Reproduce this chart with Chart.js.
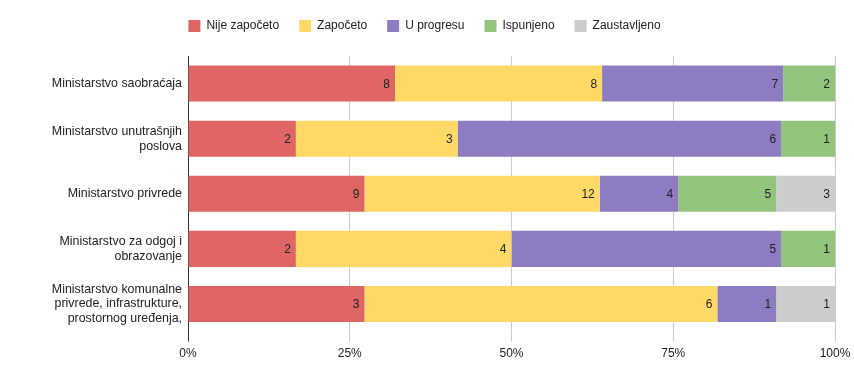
<!DOCTYPE html>
<html>
<head>
<meta charset="utf-8">
<script src="https://cdn.jsdelivr.net/npm/chart.js@4"></script>
<style>
  html, body { margin: 0; padding: 0; background: #fff; }
  #wrap { width: 854px; height: 379px; }
</style>
</head>
<body>
<div id="wrap"><canvas id="mychart"></canvas></div>
<script>
const ministries = [
  'Ministarstvo saobraćaja',
  ['Ministarstvo unutrašnjih', 'poslova'],
  'Ministarstvo privrede',
  ['Ministarstvo za odgoj i', 'obrazovanje'],
  ['Ministarstvo komunalne', 'privrede, infrastrukture,', 'prostornog uređenja,']
];
const statuses = ['Nije započeto', 'Započeto', 'U progresu', 'Ispunjeno', 'Zaustavljeno'];
const colors = ['#e06666', '#ffd966', '#8e7cc3', '#93c47d', '#cccccc'];

const notStarted = [8, 2, 9, 2, 3];
const started    = [8, 3, 12, 4, 6];
const inProgress = [7, 6, 4, 5, 1];
const fulfilled  = [2, 1, 5, 1, 0];
const stopped    = [0, 0, 3, 0, 1];

const xTicks = [0, 25, 50, 75, 100];

const counts = [notStarted, started, inProgress, fulfilled, stopped];
const totals = ministries.map((m, i) => counts.reduce((s, arr) => s + arr[i], 0));

const datasets = counts.map((arr, k) => ({
  label: statuses[k],
  data: arr.map((v, i) => v / totals[i] * 100),
  raw: arr,
  backgroundColor: colors[k],
  borderWidth: 0,
  barPercentage: 0.655,
  categoryPercentage: 1
}));

// draws the count at the right end of each segment
const endLabels = {
  id: 'endLabels',
  afterDatasetsDraw(chart) {
    const ctx = chart.ctx;
    ctx.save();
    ctx.font = '12px "Liberation Sans", Arial, sans-serif';
    ctx.fillStyle = '#222';
    ctx.textAlign = 'right';
    ctx.textBaseline = 'middle';
    chart.data.datasets.forEach((ds, di) => {
      chart.getDatasetMeta(di).data.forEach((bar, i) => {
        const v = ds.raw[i];
        if (!v) return;
        ctx.fillText(String(v), bar.x - 5, bar.y + 1);
      });
    });
    ctx.restore();
  }
};

// more room under the legend, and shift it like the original
const legendSpace = {
  id: 'legendSpace',
  beforeInit(chart) {
    const fit = chart.legend.fit;
    chart.legend.fit = function () {
      fit.bind(chart.legend)();
      this.height += 14;
    };
  },
  beforeDraw(chart) {
    chart.legend.left = -5;
    chart.legend.right = chart.width;
  }
};

Chart.defaults.font.family = '"Liberation Sans", Arial, sans-serif';
Chart.defaults.font.size = 12;
Chart.defaults.color = '#222';

new Chart(document.querySelector('#mychart'), {
  type: 'bar',
  data: { labels: ministries, datasets: datasets },
  options: {
    indexAxis: 'y',
    responsive: true,
    maintainAspectRatio: false,
    animation: false,
    layout: { padding: { top: 0, right: 0, bottom: 13, left: 0 } },
    plugins: {
      legend: {
        position: 'top',
        labels: {
          boxWidth: 12,
          boxHeight: 12,
          padding: 20,
          color: '#222',
          font: { size: 12 }
        }
      },
      tooltip: { enabled: false }
    },
    scales: {
      x: {
        stacked: true,
        min: 0,
        max: 100,
        afterBuildTicks: (scale) => { scale.ticks = xTicks.map(v => ({ value: v })); },
        afterFit: (scale) => { scale.paddingRight = 19; },
        ticks: {
          callback: v => v + '%',
          color: '#222',
          padding: 5,
          maxRotation: 0
        },
        grid: {
          color: c => c.tick && c.tick.value === 0 ? '#333' : '#cccccc',
          tickLength: 10,
          drawTicks: true
        },
        border: { display: false }
      },
      y: {
        stacked: true,
        afterFit: (scale) => { scale.width = 188; },
        ticks: { color: '#222', padding: 6, font: { size: 12.4 } },
        grid: { display: false, drawTicks: false },
        border: { display: false }
      }
    }
  },
  plugins: [endLabels, legendSpace]
});
</script>
</body>
</html>
